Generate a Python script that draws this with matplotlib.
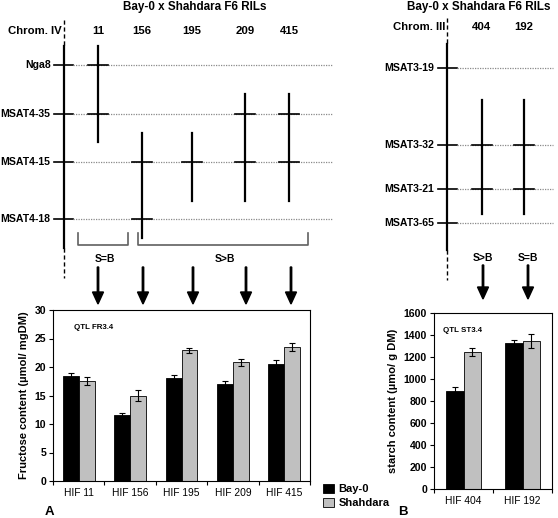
import matplotlib
matplotlib.use('Agg')
import matplotlib.pyplot as plt
from matplotlib.patches import Patch
import numpy as np

plt.rcParams['font.family'] = ['Liberation Sans', 'DejaVu Sans']
plt.rcParams['font.weight'] = 'bold'
plt.rcParams['axes.labelweight'] = 'bold'

# --- data -----------------------------------------------------------------
title = 'Bay-0 x Shahdara F6 RILs'

# chromosome IV map (marker positions in drawing units, top = 0)
chr4_markers = ['Nga8', 'MSAT4-35', 'MSAT4-15', 'MSAT4-18']
chr4_pos = [65, 114, 162, 219]
chr4_lines = ['11', '156', '195', '209', '415']
chr4_start = [46, 133, 133, 94, 94]
chr4_end = [142, 238, 201, 201, 201]

# chromosome III map
chr3_markers = ['MSAT3-19', 'MSAT3-32', 'MSAT3-21', 'MSAT3-65']
chr3_pos = [68, 145, 189, 223]
chr3_lines = ['404', '192']
chr3_start = [100, 100]
chr3_end = [214, 214]

# fructose (panel A)
hif_a = ['HIF 11', 'HIF 156', 'HIF 195', 'HIF 209', 'HIF 415']
fru_bay = [18.5, 11.5, 18.0, 17.0, 20.6]
fru_bay_err = [0.4, 0.5, 0.6, 0.5, 0.6]
fru_sha = [17.5, 15.0, 22.9, 20.8, 23.5]
fru_sha_err = [0.7, 0.9, 0.5, 0.6, 0.7]

# starch (panel B)
hif_b = ['HIF 404', 'HIF 192']
sta_bay = [890, 1330]
sta_bay_err = [35, 25]
sta_sha = [1245, 1345]
sta_sha_err = [40, 60]

grey = '#c0c0c0'
dotc = '#8a8a8a'

fig = plt.figure(figsize=(5.58, 5.18), dpi=100)

# overlay in pixel units for the genetic map diagrams
ov = fig.add_axes([0, 0, 1, 1])
ov.set_xlim(0, 558)
ov.set_ylim(518, 0)
ov.axis('off')


def draw_map(chrom_x, label, label_y, markers, pos, lines, line_x, starts, ends,
             x_end, col_y, top, bottom):
    # chromosome line
    ov.plot([chrom_x, chrom_x], [top - 26, top], color='black', lw=1, ls=(0, (3, 2)))
    ov.plot([chrom_x, chrom_x], [top, bottom], color='black', lw=1.6)
    ov.plot([chrom_x, chrom_x], [bottom, bottom + 30], color='black', lw=1, ls=(0, (3, 2)))
    ov.text(chrom_x - 2, label_y, label, ha='right', va='center', fontsize=8.2)
    for m, y in zip(markers, pos):
        ov.plot([chrom_x - 9.5, chrom_x + 9.5], [y, y], color='black', lw=1.2)
        ov.plot([chrom_x + 9.5, x_end], [y, y], color=dotc, lw=0.9, ls=(0, (1, 1)))
        ov.text(chrom_x - 13, y, m, ha='right', va='center', fontsize=7.6)
    for name, x, s, e in zip(lines, line_x, starts, ends):
        ov.plot([x, x], [s, e], color='black', lw=1.6)
        ov.text(x, col_y, name, ha='center', va='center', fontsize=8.2)
        for y in pos:
            if s < y < e:
                ov.plot([x - 10, x + 10], [y, y], color='black', lw=1.2)


draw_map(63.5, 'Chrom. IV', 31, chr4_markers, chr4_pos, chr4_lines,
         [98, 142, 192, 245, 289], chr4_start, chr4_end, 332, 31, 46, 248)
draw_map(447, 'Chrom. III', 27, chr3_markers, chr3_pos, chr3_lines,
         [482, 524], chr3_start, chr3_end, 553, 27, 44, 250)

ov.text(195, 7, title, ha='center', va='center', fontsize=8.4)
ov.text(479, 7, title, ha='center', va='center', fontsize=8.4)

# brackets
for x0, x1 in [(78, 128), (138, 308)]:
    ov.plot([x0, x0, x1, x1], [233, 245, 245, 233], color='#606060', lw=1.2)
ov.text(105, 259, 'S=B', ha='center', va='center', fontsize=7.5)
ov.text(225, 259, 'S>B', ha='center', va='center', fontsize=7.5)
ov.text(483, 258, 'S>B', ha='center', va='center', fontsize=7.5)
ov.text(528, 258, 'S=B', ha='center', va='center', fontsize=7.5)

# arrows
for x in [98, 143, 193, 246, 291]:
    ov.arrow(x, 267, 0, 37, width=1.4, head_width=11, head_length=12,
             length_includes_head=True, color='black')
for x in [483, 528]:
    ov.arrow(x, 265, 0, 34, width=1.4, head_width=11, head_length=12,
             length_includes_head=True, color='black')

ov.text(49, 512, 'A', ha='center', va='center', fontsize=9.5)
ov.text(403, 512, 'B', ha='center', va='center', fontsize=9.5)


def bar_panel(rect, cats, bay, bay_err, sha, sha_err, width, ylim, step, ylabel, qtl):
    ax = fig.add_axes(rect)
    x = np.arange(len(cats))
    ax.bar(x - width / 2, bay, width, color='black', edgecolor='black', lw=0.6,
           yerr=bay_err, capsize=2.5, error_kw=dict(elinewidth=0.8, capthick=0.8))
    ax.bar(x + width / 2, sha, width, color=grey, edgecolor='black', lw=0.6,
           yerr=sha_err, capsize=2.5, error_kw=dict(elinewidth=0.8, capthick=0.8))
    ax.set_xlim(-0.5, len(cats) - 0.5)
    ax.set_ylim(*ylim)
    yt = np.arange(ylim[0], ylim[1] + 1, step)
    ax.set_yticks(yt)
    ax.set_yticklabels([str(int(v)) for v in yt], fontweight='bold', fontsize=7.6)
    ax.set_xticks(x)
    ax.set_xticklabels(cats, fontweight='normal', fontsize=7.4)
    ax.set_xticks(np.arange(-0.5, len(cats), 1), minor=True)
    ax.tick_params(axis='x', which='major', length=0, pad=5)
    ax.tick_params(axis='x', which='minor', length=3, width=0.8)
    ax.tick_params(axis='y', length=3, width=0.8, pad=2)
    for s in ax.spines.values():
        s.set_linewidth(0.8)
    ax.set_ylabel(ylabel, fontsize=8, fontweight='bold', labelpad=4)
    ax.text(0.08, 0.9, qtl, transform=ax.transAxes, fontsize=5.7, va='center')
    return ax


bar_panel([53 / 558, 37 / 518, 257 / 558, 171 / 518], hif_a, fru_bay, fru_bay_err,
          fru_sha, fru_sha_err, 0.31, (0, 30), 5,
          'Fructose content (µmol/ mgDM)', 'QTL FR3.4')
bar_panel([434 / 558, 29 / 518, 118 / 558, 176 / 518], hif_b, sta_bay, sta_bay_err,
          sta_sha, sta_sha_err, 0.29, (0, 1600), 200,
          'starch content (µmo/ g DM)', 'QTL ST3.4')

handles = [Patch(facecolor='black', edgecolor='black', lw=0.6),
           Patch(facecolor=grey, edgecolor='black', lw=0.6)]
fig.legend(handles, ['Bay-0', 'Shahdara'], loc='upper left',
           bbox_to_anchor=(315 / 558, 1 - 476 / 518), frameon=False,
           fontsize=8, handlelength=1.0, handleheight=0.9, handletextpad=0.4,
           labelspacing=0.3, borderpad=0.2)

fig.savefig('out.png', dpi=100)
